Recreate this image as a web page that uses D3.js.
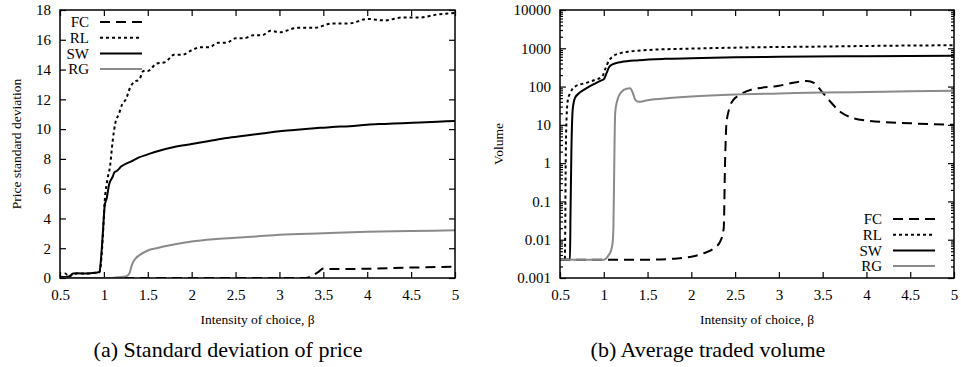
<!DOCTYPE html>
<html>
<head>
<meta charset="utf-8">
<script src="https://cdn.jsdelivr.net/npm/d3@7"></script>
<style>
  body { margin: 0; background: #fff; }
  svg text { font-family: "Liberation Serif", "Times New Roman", serif !important; fill: #000; }
</style>
</head>
<body>
<div id="chart"></div>
<script>
// x ticks shared by both panels
const betaTicks = [0.5, 1, 1.5, 2, 2.5, 3, 3.5, 4, 4.5, 5];
const stdTicks = [0, 2, 4, 6, 8, 10, 12, 14, 16, 18];
const volTicks = [0.001, 0.01, 0.1, 1, 10, 100, 1000, 10000];
const seriesNames = ["FC", "RL", "SW", "RG"];

// (a) price standard deviation, [beta, value]
const stdFC = [[0.5,0],[3.3,0],[3.36,0.1],[3.44,0.4],[3.5,0.63],[3.6,0.6],[4.0,0.62],[4.5,0.7],[5.0,0.76]];
const stdRL = [[0.5,0.05],[0.53,0.1],[0.56,0.3],[0.6,0.1],[0.65,0.25],[0.7,0.3],[0.8,0.3],[0.9,0.35],[0.95,0.4],
  [0.97,1.2],[0.99,3.0],[1.01,5.2],[1.04,6.6],[1.07,7.5],[1.1,9.2],[1.13,10.4],[1.17,11.0],[1.21,11.7],[1.25,12.0],
  [1.3,12.8],[1.35,13.2],[1.4,13.3],[1.45,13.9],[1.5,13.9],[1.6,14.4],[1.7,14.5],[1.8,15.0],[1.9,15.0],[2.0,15.3],
  [2.1,15.5],[2.2,15.5],[2.3,15.8],[2.4,15.8],[2.5,16.1],[2.6,16.1],[2.7,16.3],[2.8,16.3],[2.9,16.6],[3.0,16.5],
  [3.2,16.8],[3.4,16.8],[3.6,17.1],[3.8,17.1],[4.0,17.4],[4.2,17.3],[4.4,17.5],[4.6,17.5],[4.8,17.7],[5.0,17.8]];
const stdSW = [[0.5,0.05],[0.6,0.1],[0.65,0.3],[0.7,0.32],[0.8,0.3],[0.9,0.35],[0.95,0.4],[0.97,1.5],[0.99,3.2],
  [1.01,4.9],[1.03,5.3],[1.06,6.3],[1.1,6.8],[1.12,7.1],[1.15,7.2],[1.2,7.5],[1.3,7.8],[1.4,8.1],[1.5,8.3],[1.6,8.5],
  [1.8,8.8],[2.0,9.0],[2.2,9.2],[2.4,9.4],[2.6,9.55],[2.8,9.7],[3.0,9.85],[3.2,9.95],[3.4,10.05],[3.6,10.15],[3.8,10.2],
  [4.0,10.3],[4.2,10.35],[4.4,10.4],[4.6,10.45],[4.8,10.5],[5.0,10.55]];
const stdRG = [[0.5,0],[1.1,0],[1.15,0.05],[1.25,0.1],[1.29,0.3],[1.32,0.9],[1.36,1.3],[1.41,1.55],[1.5,1.85],
  [1.6,2.0],[1.75,2.2],[2.0,2.45],[2.25,2.6],[2.5,2.7],[2.75,2.8],[3.0,2.9],[3.5,3.0],[4.0,3.1],[4.5,3.15],[5.0,3.2]];

// (b) average traded volume, [beta, value]
const volFC = [[0.5,0.003],[1.5,0.003],[1.8,0.0032],[2.0,0.0036],[2.15,0.0045],[2.25,0.0058],[2.33,0.009],[2.37,0.02],
  [2.385,1],[2.4,10],[2.43,25],[2.48,45],[2.55,60],[2.7,85],[3.0,105],[3.2,130],[3.32,140],[3.4,125],[3.5,70],
  [3.57,45],[3.7,22],[3.85,15],[4.0,13],[4.5,11],[5.0,10]];
const volRL = [[0.5,0.003],[0.555,0.003],[0.56,0.02],[0.565,1],[0.575,15],[0.59,45],[0.62,70],[0.67,100],[0.8,125],
  [0.9,150],[0.98,180],[1.02,300],[1.06,480],[1.1,600],[1.2,760],[1.3,830],[1.5,900],[2.0,980],[2.5,1040],[3.0,1080],
  [3.5,1110],[4.0,1150],[4.5,1180],[5.0,1200]];
const volSW = [[0.5,0.003],[0.614,0.003],[0.62,0.05],[0.63,2],[0.645,25],[0.67,50],[0.71,65],[0.8,90],[0.9,120],
  [0.98,148],[1.0,155],[1.03,220],[1.06,320],[1.1,380],[1.2,440],[1.4,490],[1.7,530],[2.0,550],[2.5,580],[3.0,600],
  [4.0,620],[5.0,635]];
const volRG = [[0.5,0.003],[1.0,0.003],[1.05,0.0038],[1.08,0.005],[1.1,0.008],[1.11,0.02],[1.12,1],[1.13,20],[1.15,40],
  [1.2,72],[1.26,88],[1.3,90],[1.33,70],[1.36,45],[1.4,40],[1.5,44],[1.75,50],[2.0,55],[2.5,62],[3.0,66],[3.5,70],
  [4.0,72],[4.5,75],[5.0,78]];

const styles = {
  FC: {stroke: "#000", dash: "10,6"},
  RL: {stroke: "#000", dash: "3,3"},
  SW: {stroke: "#000", dash: null},
  RG: {stroke: "#8a8a8a", dash: null}
};

const svg = d3.select("#chart").append("svg")
    .attr("width", 961)
    .attr("height", 367)
    .attr("font-family", "Liberation Serif");

function panel(opt) {
  const x = d3.scaleLinear().domain([0.5, 5]).range([opt.left, opt.right]);
  const y = opt.y;
  const g = svg.append("g");

  const line = d3.line()
      .x(d => x(d[0]))
      .y(d => y(d[1]))
      .curve(d3.curveMonotoneX);

  // ticks on all four sides, pointing inward (gnuplot style)
  g.append("g").attr("transform", `translate(0,${opt.bottom})`)
    .call(d3.axisBottom(x).tickValues(betaTicks).tickSizeInner(-6).tickSizeOuter(0).tickPadding(11).tickFormat(d3.format("")));
  g.append("g").attr("transform", `translate(0,${opt.top})`)
    .call(d3.axisTop(x).tickValues(betaTicks).tickSizeInner(-6).tickSizeOuter(0).tickFormat(""));

  g.append("g").attr("transform", `translate(${opt.left},0)`)
    .call(d3.axisLeft(y).tickValues(opt.yTicks).tickSizeInner(-6).tickSizeOuter(0).tickPadding(9).tickFormat(opt.fmt));
  g.append("g").attr("transform", `translate(${opt.right},0)`)
    .call(d3.axisRight(y).tickValues(opt.yTicks).tickSizeInner(-6).tickSizeOuter(0).tickFormat(""));

  if (opt.minor) {
    g.append("g").attr("transform", `translate(${opt.left},0)`)
      .call(d3.axisLeft(y).tickValues(opt.minor).tickSizeInner(-3).tickSizeOuter(0).tickFormat(""));
    g.append("g").attr("transform", `translate(${opt.right},0)`)
      .call(d3.axisRight(y).tickValues(opt.minor).tickSizeInner(-3).tickSizeOuter(0).tickFormat(""));
  }

  g.selectAll(".domain").remove();
  g.selectAll("g").attr("font-family", null).attr("font-size", null);
  g.selectAll(".tick line").attr("stroke", "#000").attr("stroke-width", 1.2);
  g.selectAll(".tick text").style("font-size", "15px");

  const clipId = "clip" + opt.left;
  svg.append("clipPath").attr("id", clipId).append("rect")
      .attr("x", opt.left).attr("y", opt.top)
      .attr("width", opt.right - opt.left).attr("height", opt.bottom - opt.top);

  const lines = g.append("g").attr("clip-path", `url(#${clipId})`);
  opt.series.forEach((s, i) => {
    const st = styles[seriesNames[i]];
    lines.append("path")
        .datum(s)
        .attr("d", line)
        .attr("fill", "none")
        .attr("stroke", st.stroke)
        .attr("stroke-width", 2)
        .attr("stroke-dasharray", st.dash);
  });

  // frame
  g.append("rect")
      .attr("x", opt.left).attr("y", opt.top)
      .attr("width", opt.right - opt.left).attr("height", opt.bottom - opt.top)
      .attr("fill", "none").attr("stroke", "#000").attr("stroke-width", 1.5);

  // legend
  const lg = g.append("g");
  seriesNames.forEach((n, i) => {
    const yy = opt.legY + i * 15.7;
    const st = styles[n];
    lg.append("text")
        .attr("x", opt.legX).attr("y", yy)
        .attr("text-anchor", "end").attr("dy", "0.35em")
        .style("font-size", "15px")
        .text(n);
    lg.append("line")
        .attr("x1", opt.legX + 11).attr("x2", opt.legX + 53)
        .attr("y1", yy).attr("y2", yy)
        .attr("stroke", st.stroke).attr("stroke-width", 2)
        .attr("stroke-dasharray", st.dash);
  });

  // titles
  g.append("text")
      .attr("x", (opt.left + opt.right) / 2).attr("y", 324)
      .attr("text-anchor", "middle")
      .style("font-size", "13.5px")
      .text("Intensity of choice, β");
  g.append("text")
      .attr("transform", `translate(${opt.yTitleX},${(opt.top + opt.bottom) / 2}) rotate(-90)`)
      .attr("text-anchor", "middle")
      .style("font-size", "13.5px")
      .text(opt.yTitle);
  g.append("text")
      .attr("x", opt.capX).attr("y", 357)
      .attr("text-anchor", "middle")
      .style("font-size", "22px")
      .text(opt.caption);
}

panel({
  left: 60, right: 455, top: 10, bottom: 278,
  y: d3.scaleLinear().domain([0, 18]).range([278, 10]),
  yTicks: stdTicks,
  fmt: d3.format(""),
  series: [stdFC, stdRL, stdSW, stdRG],
  legX: 89, legY: 22,
  yTitle: "Price standard deviation", yTitleX: 21,
  caption: "(a) Standard deviation of price", capX: 228
});

const minorVol = [];
volTicks.slice(0, -1).forEach(d => { for (let k = 2; k < 10; k++) minorVol.push(d * k); });

panel({
  left: 560, right: 954, top: 10, bottom: 278,
  y: d3.scaleLog().domain([0.001, 10000]).range([278, 10]),
  yTicks: volTicks,
  fmt: d => d3.format("")(d),
  minor: minorVol,
  series: [volFC, volRL, volSW, volRG],
  legX: 882, legY: 219,
  yTitle: "Volume", yTitleX: 503,
  caption: "(b) Average traded volume", capX: 708
});
</script>
</body>
</html>
